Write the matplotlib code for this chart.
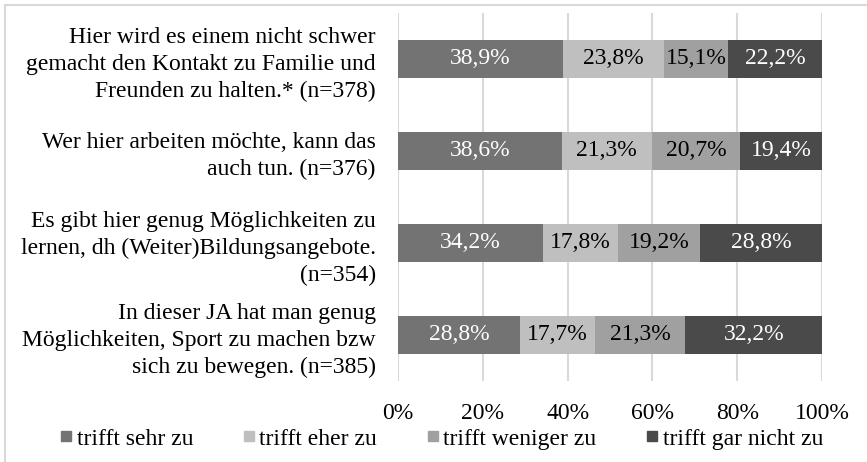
import matplotlib.pyplot as plt
from matplotlib.lines import Line2D
import numpy as np

plt.rcParams["font.family"] = ["Liberation Serif", "DejaVu Serif"]

statements = [
    "Hier wird es einem nicht schwer\ngemacht den Kontakt zu Familie und\nFreunden zu halten.* (n=378)",
    "Wer hier arbeiten möchte, kann das\nauch tun. (n=376)",
    "Es gibt hier genug Möglichkeiten zu\nlernen, dh (Weiter)Bildungsangebote.\n(n=354)",
    "In dieser JA hat man genug\nMöglichkeiten, Sport zu machen bzw\nsich zu bewegen. (n=385)",
]
answers = ["trifft sehr zu", "trifft eher zu", "trifft weniger zu", "trifft gar nicht zu"]
sehr = [38.9, 38.6, 34.2, 28.8]
eher = [23.8, 21.3, 17.8, 17.7]
weniger = [15.1, 20.7, 19.2, 21.3]
gar_nicht = [22.2, 19.4, 28.8, 32.2]

colors = ["#737373", "#bfbfbf", "#a0a0a0", "#4a4a4a"]
text_colors = ["white", "black", "black", "white"]
fs = 17

fig = plt.figure(figsize=(8.67, 4.62), dpi=100)
ax = fig.add_axes([398 / 867, 1 - 381 / 462, 424 / 867, 368 / 462])

y = np.arange(len(statements))
left = np.zeros(len(statements))
for vals, col, tcol in zip([sehr, eher, weniger, gar_nicht], colors, text_colors):
    vals = np.array(vals)
    ax.barh(y, vals / 100, left=left, height=0.42, color=col, zorder=3)
    for yi, l, v in zip(y, left, vals):
        ax.text(l + v / 200, yi, f"{v:.1f}%".replace(".", ","), ha="center",
                va="center", color=tcol, fontsize=fs, zorder=4)
    left += vals / 100

ax.set_xlim(0, 1)
ax.set_ylim(3.5, -0.5)
ax.set_xticks(np.linspace(0, 1, 6))
ax.set_xticklabels([f"{int(t)}%" for t in np.linspace(0, 100, 6)], fontsize=fs)
ax.set_yticks(y)
ax.set_yticklabels(statements, fontsize=fs, linespacing=1.35)
ax.tick_params(axis="both", length=0)
ax.tick_params(axis="x", pad=16)
ax.tick_params(axis="y", pad=16)
ax.grid(axis="x", color="#d9d9d9", linewidth=1.5, zorder=0)
for s in ax.spines.values():
    s.set_visible(False)

handles = [Line2D([], [], marker="s", linestyle="", markersize=7, color=c) for c in colors]
fig.legend(handles, answers, loc="center", bbox_to_anchor=(0.508, 1 - 439 / 462),
           ncol=4, frameon=False, fontsize=fs, handletextpad=0.1,
           columnspacing=2.0, handlelength=0.7, borderpad=0, borderaxespad=0)

# outer chart frame
fig.add_artist(Line2D([5 / 867, 5 / 867], [0, 1 - 5 / 462], color="#d9d9d9", lw=1.5))
fig.add_artist(Line2D([5 / 867, 1], [1 - 5 / 462, 1 - 5 / 462], color="#d9d9d9", lw=1.5))

fig.savefig("out.png", dpi=100)
